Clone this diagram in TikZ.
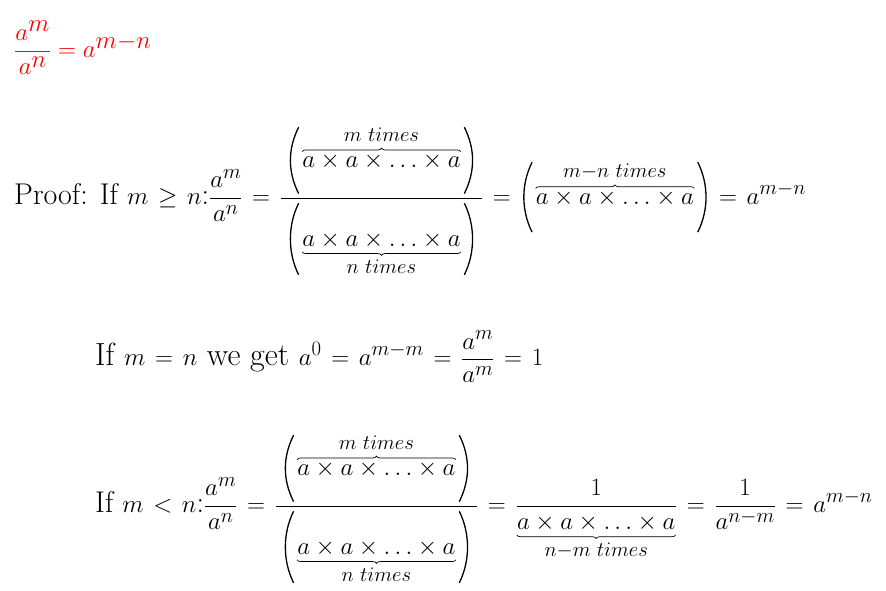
\documentclass[tikz,border=0pt]{standalone}
\usepackage{amsmath,amssymb}
\usetikzlibrary{decorations.pathreplacing,calc}
\newcommand{\prodA}{a\times a\times\ldots\times a}
\newcommand{\lbl}{\fontsize{21}{22}\selectfont}
\tikzset{
  eq/.style={anchor=west,inner sep=0pt,font=\fontsize{30}{34}\selectfont},
  bracestyle/.style={decorate,decoration={brace,amplitude=3.5pt},line width=0.7pt},
  parstyle/.style={line width=1.3pt}
}
\newcommand{\ob}[2]{\tikz[baseline=(p.base)]{\node[inner sep=0pt,anchor=center] (p) {$#1$};
  \draw[bracestyle] ([yshift=1.5pt]p.north west) -- ([yshift=1.5pt]p.north east);
  \node[inner sep=0pt,anchor=south,font=\lbl] (pl) at ([yshift=11pt]p.north) {$#2$};}}
\newcommand{\ub}[2]{\tikz[baseline=(p.base)]{\node[inner sep=0pt,anchor=center] (p) {$#1$};
  \draw[bracestyle] ([yshift=-3pt]p.south east) -- ([yshift=-3pt]p.south west);
  \node[inner sep=0pt,anchor=north,font=\lbl] (pl) at ([yshift=-11pt]p.south) {$#2$};}}
\newcommand{\grp}[1]{\tikz[baseline=(q.base)]{\node[inner sep=0pt,anchor=center] (q) {$#1$};
  \path let \p1=(q.north west), \p2=(q.south east), \p3=(q.base),
    \n1={max(\y1-\y3-7.5pt,\y3+7.5pt-\y2)+1pt}, \n2={\y3+7.5pt} in
    coordinate (lt) at (\x1-3pt,\n2+\n1) coordinate (lb) at (\x1-3pt,\n2-\n1)
    coordinate (rt) at (\x2+3pt,\n2+\n1) coordinate (rb) at (\x2+3pt,\n2-\n1);
  \draw[parstyle] (lt) .. controls ([xshift=-11pt,yshift=-22pt]lt) and ([xshift=-11pt,yshift=22pt]lb) .. (lb);
  \draw[parstyle] (rt) .. controls ([xshift=11pt,yshift=-22pt]rt) and ([xshift=11pt,yshift=22pt]rb) .. (rb);
  \path ([xshift=-13pt]q.west) ([xshift=13pt]q.east);}}
\begin{document}
\begin{tikzpicture}[x=1pt,y=1pt]
\useasboundingbox (0,0) rectangle (886,591);
\node[eq,text=red,font=\fontsize{33}{38}\selectfont] (title) at (14,543) {$\dfrac{a^m}{a^n}=a^{m-n}$};
\node[eq] (proof) at (14,390) {Proof: If $\thickmuskip=7mu m\geq n$:$\displaystyle\thickmuskip=7mu\frac{a^m}{a^n}=\frac{\kern6pt\grp{\ob{\prodA}{m\ times}}\kern6pt}{\kern6pt\grp{\ub{\prodA}{n\ times}}\kern6pt}=\grp{\ob{\prodA}{m{-}n\ times}}=a^{m-n}$};
\node[eq,font=\fontsize{32}{36}\selectfont] (equal) at (95,234) {If $\thickmuskip=7mu m=n$ we get $\displaystyle\thickmuskip=7mu a^0=a^{m-m}=\frac{a^m}{a^m}=1$};
\node[eq] (less) at (95,82) {If $\thickmuskip=7mu m<n$:$\displaystyle\thickmuskip=7mu\frac{a^m}{a^n}=\frac{\kern6pt\grp{\ob{\prodA}{m\ times}}\kern6pt}{\kern6pt\grp{\ub{\prodA}{n\ times}}\kern6pt}=\frac{1}{\ub{\prodA}{n{-}m\ times}}=\frac{1}{a^{n-m}}=a^{m-n}$};
\end{tikzpicture}
\end{document}
